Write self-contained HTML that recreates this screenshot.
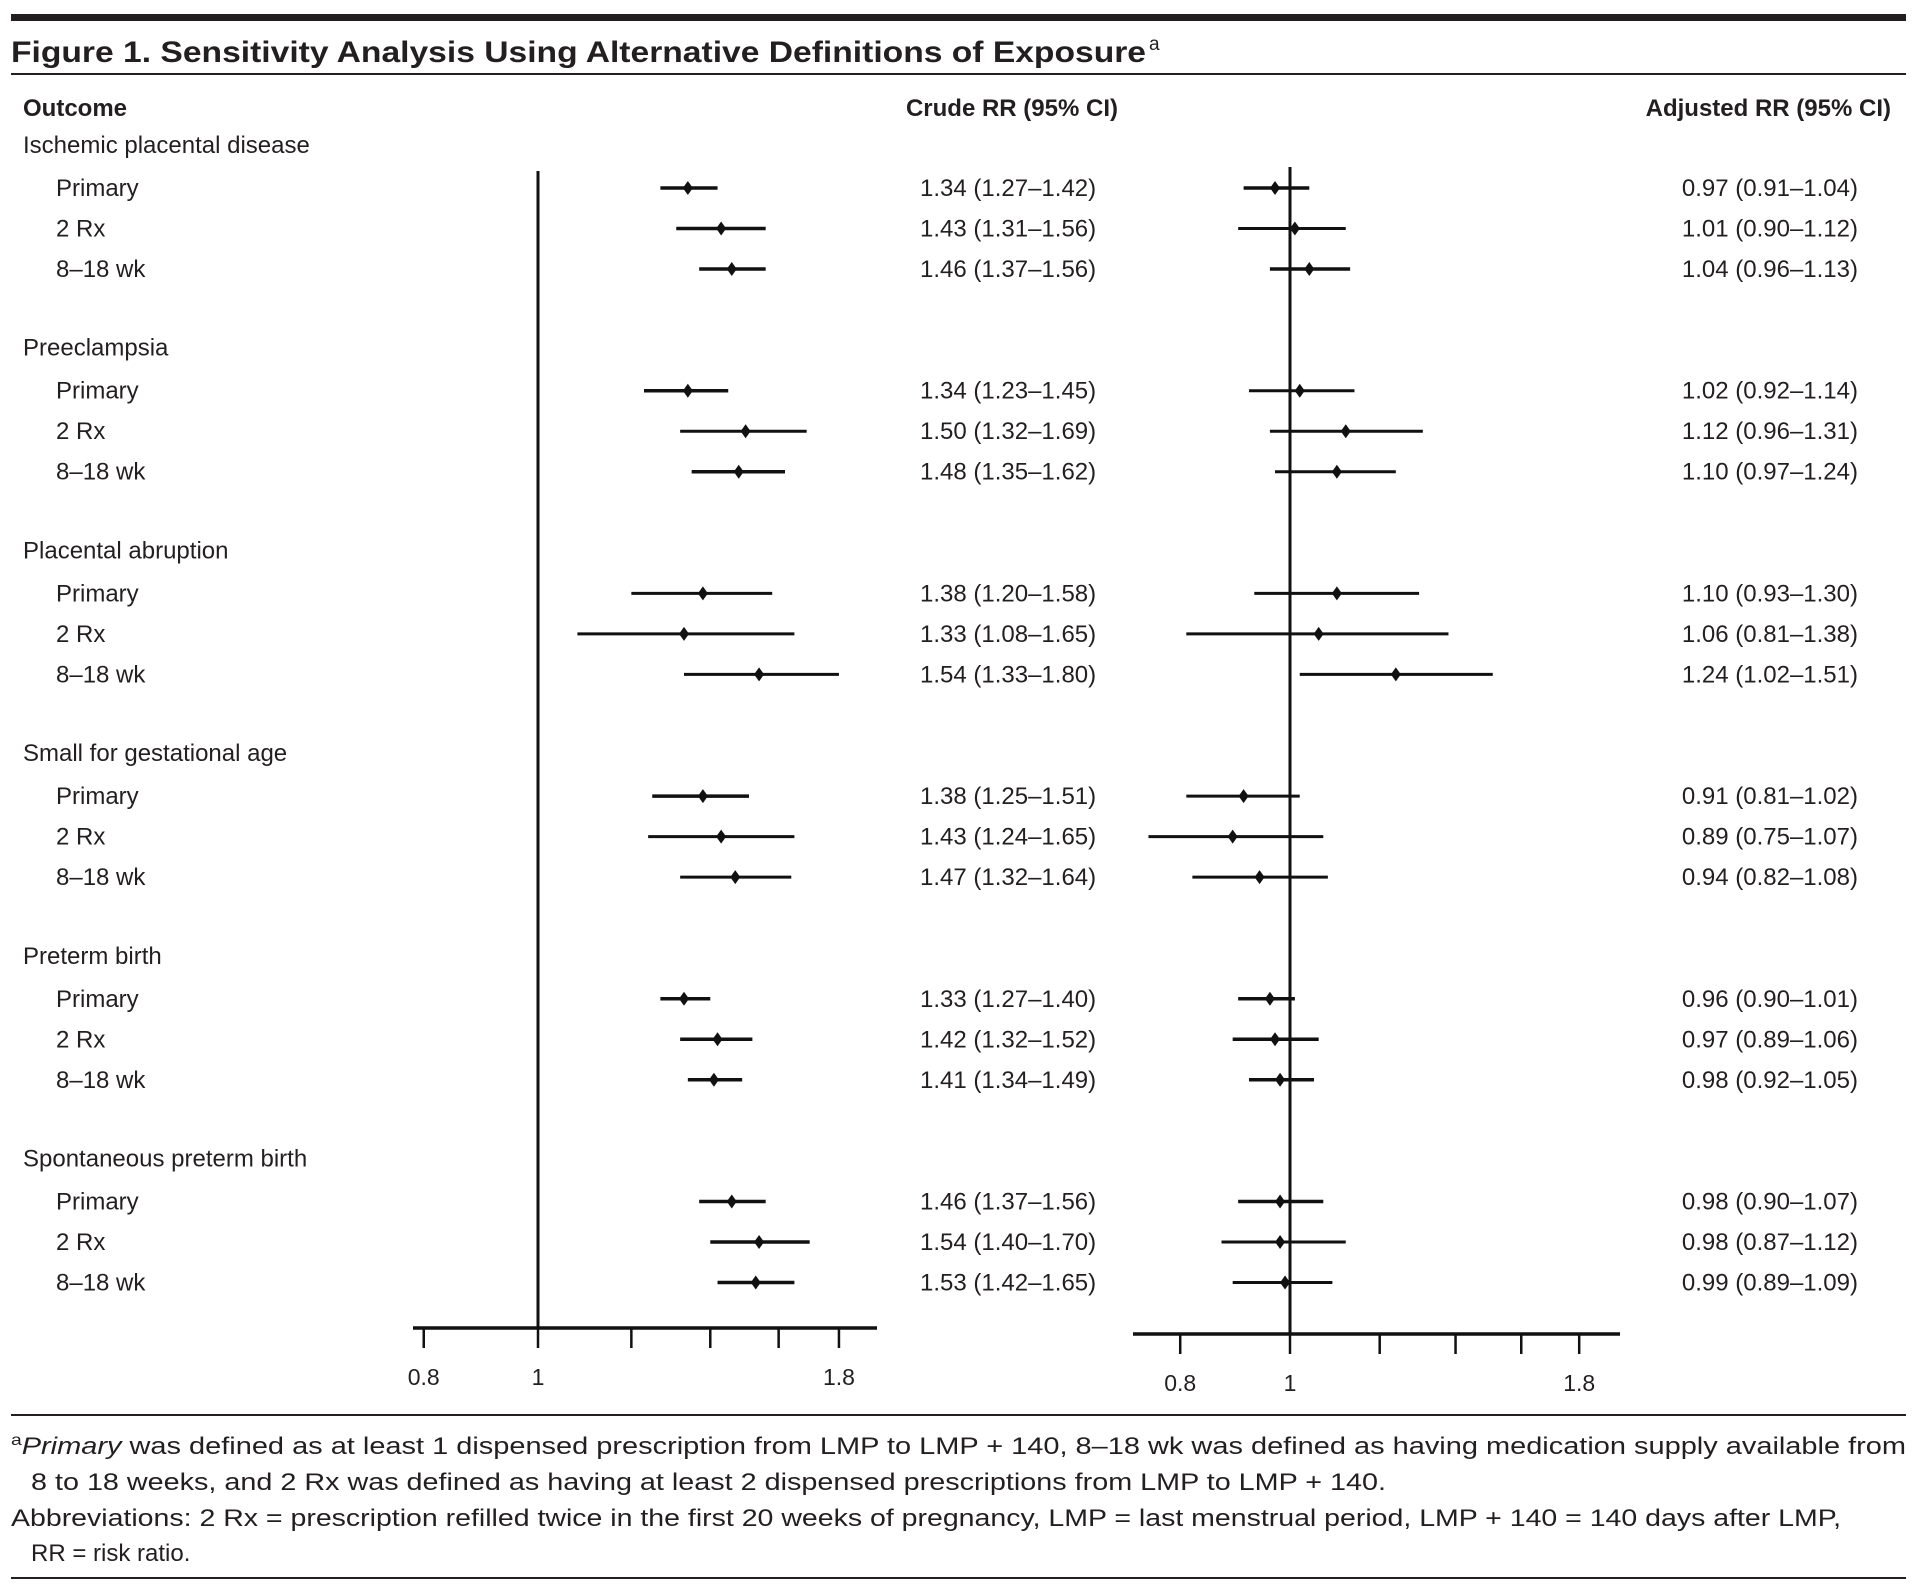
<!DOCTYPE html>
<html><head><meta charset="utf-8"><style>
body{margin:0;background:#fff;}
svg{display:block;font-family:"Liberation Sans",sans-serif;fill:#231f20;}
</style></head><body>
<svg id="chart" width="1917" height="1584" viewBox="0 0 1917 1584" xmlns="http://www.w3.org/2000/svg">
<rect x="11" y="14" width="1895" height="7" fill="#231f20"/>
<text x="11" y="62" font-size="30" font-weight="bold" textLength="1135" lengthAdjust="spacingAndGlyphs">Figure 1. Sensitivity Analysis Using Alternative Definitions of Exposure</text>
<text x="1149" y="50" font-size="19">a</text>
<rect x="11" y="73" width="1895" height="2" fill="#231f20"/>
<text x="23" y="116" font-size="24" font-weight="bold">Outcome</text>
<text x="1118" y="116" font-size="24" font-weight="bold" text-anchor="end">Crude RR (95% CI)</text>
<text x="1891" y="116" font-size="24" font-weight="bold" text-anchor="end">Adjusted RR (95% CI)</text>
<g id="rows"></g>
<g id="marks"></g>
<rect x="11" y="1414" width="1895" height="2" fill="#231f20"/>
<text x="11" y="1454" font-size="24" textLength="1895" lengthAdjust="spacingAndGlyphs"><tspan font-size="16" dy="-9">a</tspan><tspan dy="9" font-style="italic">Primary</tspan> was defined as at least 1 dispensed prescription from LMP to LMP + 140, 8–18 wk was defined as having medication supply available from</text>
<text x="31" y="1490" font-size="24" textLength="1355" lengthAdjust="spacingAndGlyphs">8 to 18 weeks, and 2 Rx was defined as having at least 2 dispensed prescriptions from LMP to LMP + 140.</text>
<text x="11" y="1526" font-size="24" textLength="1830" lengthAdjust="spacingAndGlyphs">Abbreviations: 2 Rx = prescription refilled twice in the first 20 weeks of pregnancy, LMP = last menstrual period, LMP + 140 = 140 days after LMP,</text>
<text x="31" y="1561" font-size="24">RR = risk ratio.</text>
<rect x="11" y="1577" width="1895" height="2" fill="#231f20"/>
</svg>
<script>
const outcomes = ["Ischemic placental disease","Preeclampsia","Placental abruption","Small for gestational age","Preterm birth","Spontaneous preterm birth"];
const definitions = ["Primary","2 Rx","8–18 wk"];
const crudeEst = [1.34,1.43,1.46, 1.34,1.50,1.48, 1.38,1.33,1.54, 1.38,1.43,1.47, 1.33,1.42,1.41, 1.46,1.54,1.53];
const crudeLo  = [1.27,1.31,1.37, 1.23,1.32,1.35, 1.20,1.08,1.33, 1.25,1.24,1.32, 1.27,1.32,1.34, 1.37,1.40,1.42];
const crudeHi  = [1.42,1.56,1.56, 1.45,1.69,1.62, 1.58,1.65,1.80, 1.51,1.65,1.64, 1.40,1.52,1.49, 1.56,1.70,1.65];
const adjEst = [0.97,1.01,1.04, 1.02,1.12,1.10, 1.10,1.06,1.24, 0.91,0.89,0.94, 0.96,0.97,0.98, 0.98,0.98,0.99];
const adjLo  = [0.91,0.90,0.96, 0.92,0.96,0.97, 0.93,0.81,1.02, 0.81,0.75,0.82, 0.90,0.89,0.92, 0.90,0.87,0.89];
const adjHi  = [1.04,1.12,1.13, 1.14,1.31,1.24, 1.30,1.38,1.51, 1.02,1.07,1.08, 1.01,1.06,1.05, 1.07,1.12,1.09];
const tickVals = [0.8,1,1.2,1.4,1.6,1.8];
const tickLabels = ["0.8","1","","","","1.8"];

const NS="http://www.w3.org/2000/svg";
const rows=document.getElementById('rows'), marks=document.getElementById('marks');
function mk(tag,attrs,parent,txt){const e=document.createElementNS(NS,tag);for(const k in attrs)e.setAttribute(k,attrs[k]);if(txt!==undefined)e.textContent=txt;parent.appendChild(e);return e;}
const xL=v=>538+512*Math.log(v);
const xR=v=>1290+492*Math.log(v);
const headY=g=>145+g*202.7;
const rowY=(g,i)=>188+g*202.7+i*40.5;
const fmt=v=>v.toFixed(2);

outcomes.forEach((o,g)=>{
  const t=mk('text',{x:23,y:headY(g)+8,'font-size':24},rows,o);
  
  
  definitions.forEach((d,i)=>{
    const k=g*3+i, y=rowY(g,i);
    const l=mk('text',{x:56,y:y+8,'font-size':24},rows,d);
    
    
    const c=mk('text',{x:920,y:y+8,'font-size':24},rows,`${fmt(crudeEst[k])} (${fmt(crudeLo[k])}–${fmt(crudeHi[k])})`);
    
    
    const a=mk('text',{x:1858,y:y+8,'font-size':24,'text-anchor':'end'},rows,`${fmt(adjEst[k])} (${fmt(adjLo[k])}–${fmt(adjHi[k])})`);
    
    
    [[xL,crudeEst,crudeLo,crudeHi,'crude'],[xR,adjEst,adjLo,adjHi,'adjusted']].forEach(([sx,E,L,H,nm])=>{
      const w=(Math.log(H[k])-Math.log(L[k]))<0.2?3.5:3;
      const ci=mk('line',{x1:sx(L[k]),x2:sx(H[k]),y1:y,y2:y,stroke:'#111','stroke-width':w},marks);
      
      
      const cx=sx(E[k]);
      const p=mk('polygon',{points:`${cx},${y-7} ${cx+5},${y} ${cx},${y+7} ${cx-5},${y}`,fill:'#111'},marks);
      
      
    });
  });
});

function axis(sx,x0,x1,yAxis,yTop,nm){
  const ref=mk('line',{x1:sx(1),x2:sx(1),y1:yTop,y2:yAxis,stroke:'#111','stroke-width':3},marks);
  
  
  const ax=mk('line',{x1:x0,x2:x1,y1:yAxis,y2:yAxis,stroke:'#111','stroke-width':3.5},marks);
  
  
  tickVals.forEach((v,i)=>{
    const tk=mk('line',{x1:sx(v),x2:sx(v),y1:yAxis,y2:yAxis+20,stroke:'#111','stroke-width':2.5},marks);
    
    
    if(tickLabels[i]){
      const tl=mk('text',{x:sx(v),y:yAxis+57,'font-size':23,'text-anchor':'middle'},marks,tickLabels[i]);
      
      
    }
  });
}
axis(xL,413,877,1328,171,'crude');
axis(xR,1133,1620,1334,167,'adjusted');
</script>
</body></html>
